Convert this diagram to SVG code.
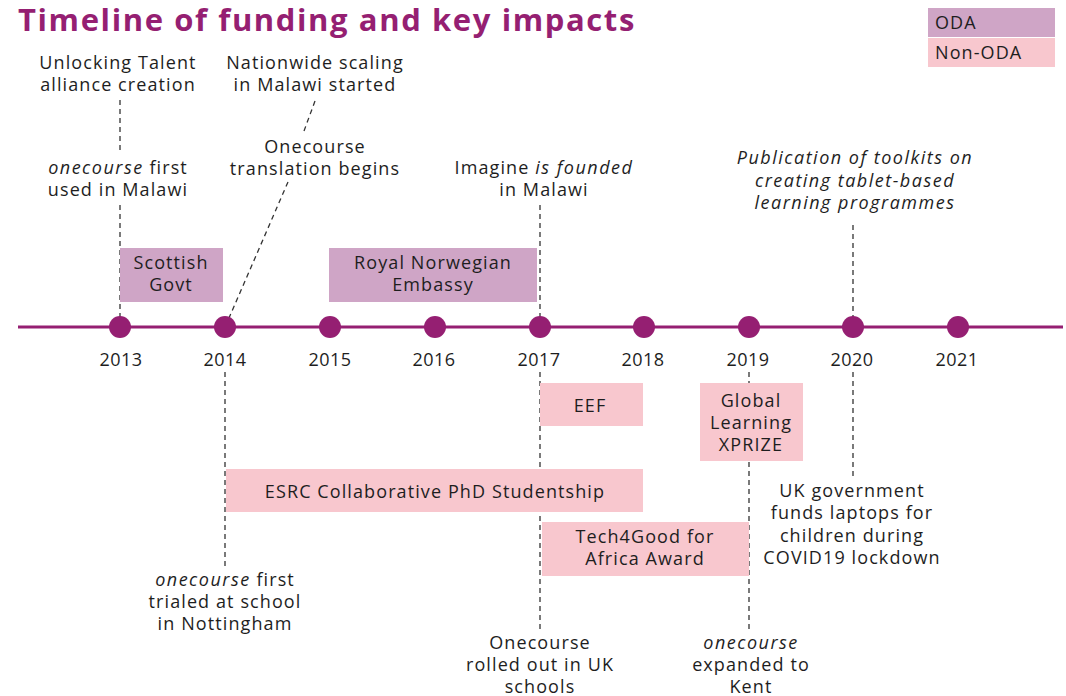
<svg xmlns="http://www.w3.org/2000/svg" width="1066" height="696" viewBox="0 0 1066 696">
<style>
text{font-family:"Open Sans","Liberation Sans",sans-serif;font-size:18px;fill:#1e1e1e;letter-spacing:1.1px;}
.c{text-anchor:middle;}
.i{font-style:italic;}
.ii{font-style:italic;letter-spacing:1.5px;}
.yr{letter-spacing:0.4px;}
.title{font-family:"Open Sans","Liberation Sans",sans-serif;font-weight:bold;font-size:31px;fill:#951f72;letter-spacing:1.6px;}
.oda{fill:#cfa5c6;}
.non{fill:#f8c7ce;}
.dash{stroke:#333;stroke-width:1.3;stroke-dasharray:5 4;fill:none;}
.axis{stroke:#951f72;stroke-width:3;}
.dot{fill:#951f72;}
</style>
<rect width="1066" height="696" fill="#fff"/>
<text class="title" x="18" y="31">Timeline of funding and key impacts</text>

<g id="connectors">
<line class="dash" x1="120" y1="100" x2="120" y2="152"/>
<line class="dash" x1="120" y1="205" x2="120" y2="318"/>
<line class="dash" x1="315" y1="101" x2="304" y2="131"/>
<line class="dash" x1="288" y1="182" x2="229" y2="318"/>
<line class="dash" x1="540" y1="205" x2="540" y2="318"/>
<line class="dash" x1="540" y1="372" x2="540" y2="630"/>
<line class="dash" x1="225" y1="372" x2="225" y2="566"/>
<line class="dash" x1="749" y1="372" x2="749" y2="630"/>
<line class="dash" x1="853" y1="225" x2="853" y2="318"/>
<line class="dash" x1="853" y1="372" x2="853" y2="476"/>
</g>

<g id="legend">
<rect class="oda" x="928" y="8" width="127" height="29"/>
<text x="935" y="29">ODA</text>
<rect class="non" x="928" y="38" width="127" height="29"/>
<text x="935" y="59">Non-ODA</text>
</g>

<g id="timeline">
<line class="axis" x1="18" y1="327" x2="1063" y2="327"/>
<circle class="dot" cx="120" cy="327" r="11"/>
<circle class="dot" cx="225" cy="327" r="11"/>
<circle class="dot" cx="330" cy="327" r="11"/>
<circle class="dot" cx="435" cy="327" r="11"/>
<circle class="dot" cx="540" cy="327" r="11"/>
<circle class="dot" cx="644" cy="327" r="11"/>
<circle class="dot" cx="749" cy="327" r="11"/>
<circle class="dot" cx="853" cy="327" r="11"/>
<circle class="dot" cx="958" cy="327" r="11"/>
<text class="c yr" x="121" y="366">2013</text>
<text class="c yr" x="225" y="366">2014</text>
<text class="c yr" x="330" y="366">2015</text>
<text class="c yr" x="434" y="366">2016</text>
<text class="c yr" x="539" y="366">2017</text>
<text class="c yr" x="643" y="366">2018</text>
<text class="c yr" x="748" y="366">2019</text>
<text class="c yr" x="852" y="366">2020</text>
<text class="c yr" x="957" y="366">2021</text>
</g>

<g id="scottish-govt">
<rect class="oda" x="120" y="248" width="103" height="54"/>
<text class="c" x="171" y="269">Scottish</text>
<text class="c" x="171" y="291">Govt</text>
</g>
<g id="royal-norwegian">
<rect class="oda" x="329" y="248" width="208" height="54"/>
<text class="c" x="433" y="269">Royal Norwegian</text>
<text class="c" x="433" y="291">Embassy</text>
</g>
<g id="eef">
<rect class="non" x="540" y="383" width="103" height="43"/>
<text class="c" x="590" y="412">EEF</text>
</g>
<g id="xprize">
<rect class="non" x="700" y="383" width="103" height="78"/>
<text class="c" x="751" y="407">Global</text>
<text class="c" x="751" y="429">Learning</text>
<text class="c" x="751" y="451">XPRIZE</text>
</g>
<g id="esrc">
<rect class="non" x="226" y="469" width="417" height="43"/>
<text class="c" x="435" y="498">ESRC Collaborative PhD Studentship</text>
</g>
<g id="tech4good">
<rect class="non" x="542" y="522" width="207" height="54"/>
<text class="c" x="645" y="543">Tech4Good for</text>
<text class="c" x="645" y="565">Africa Award</text>
</g>

<g id="unlocking-talent">
<text class="c" x="118" y="69">Unlocking Talent</text>
<text class="c" x="118" y="91">alliance creation</text>
</g>
<g id="onecourse-malawi">
<text class="c" x="118" y="174"><tspan class="ii">onecourse</tspan> first</text>
<text class="c" x="118" y="196">used in Malawi</text>
</g>
<g id="nationwide">
<text class="c" x="315" y="69">Nationwide scaling</text>
<text class="c" x="315" y="91">in Malawi started</text>
</g>
<g id="translation">
<text class="c" x="315" y="153">Onecourse</text>
<text class="c" x="315" y="175">translation begins</text>
</g>
<g id="imagine">
<text class="c" x="544" y="174">Imagine <tspan class="ii">is founded</tspan></text>
<text class="c" x="544" y="196">in Malawi</text>
</g>
<g id="publication">
<text class="c ii" x="855" y="164">Publication of toolkits on</text>
<text class="c ii" x="855" y="187">creating tablet-based</text>
<text class="c ii" x="855" y="209">learning programmes</text>
</g>
<g id="uk-gov">
<text class="c" x="852" y="497">UK government</text>
<text class="c" x="852" y="519">funds laptops for</text>
<text class="c" x="852" y="542">children during</text>
<text class="c" x="852" y="564">COVID19 lockdown</text>
</g>
<g id="nottingham">
<text class="c" x="225" y="586"><tspan class="ii">onecourse</tspan> first</text>
<text class="c" x="225" y="608">trialed at school</text>
<text class="c" x="225" y="630">in Nottingham</text>
</g>
<g id="uk-schools">
<text class="c" x="540" y="649">Onecourse</text>
<text class="c" x="540" y="671">rolled out in UK</text>
<text class="c" x="540" y="693">schools</text>
</g>
<g id="kent">
<text class="c ii" x="751" y="649">onecourse</text>
<text class="c" x="751" y="671">expanded to</text>
<text class="c" x="751" y="693">Kent</text>
</g>
</svg>
